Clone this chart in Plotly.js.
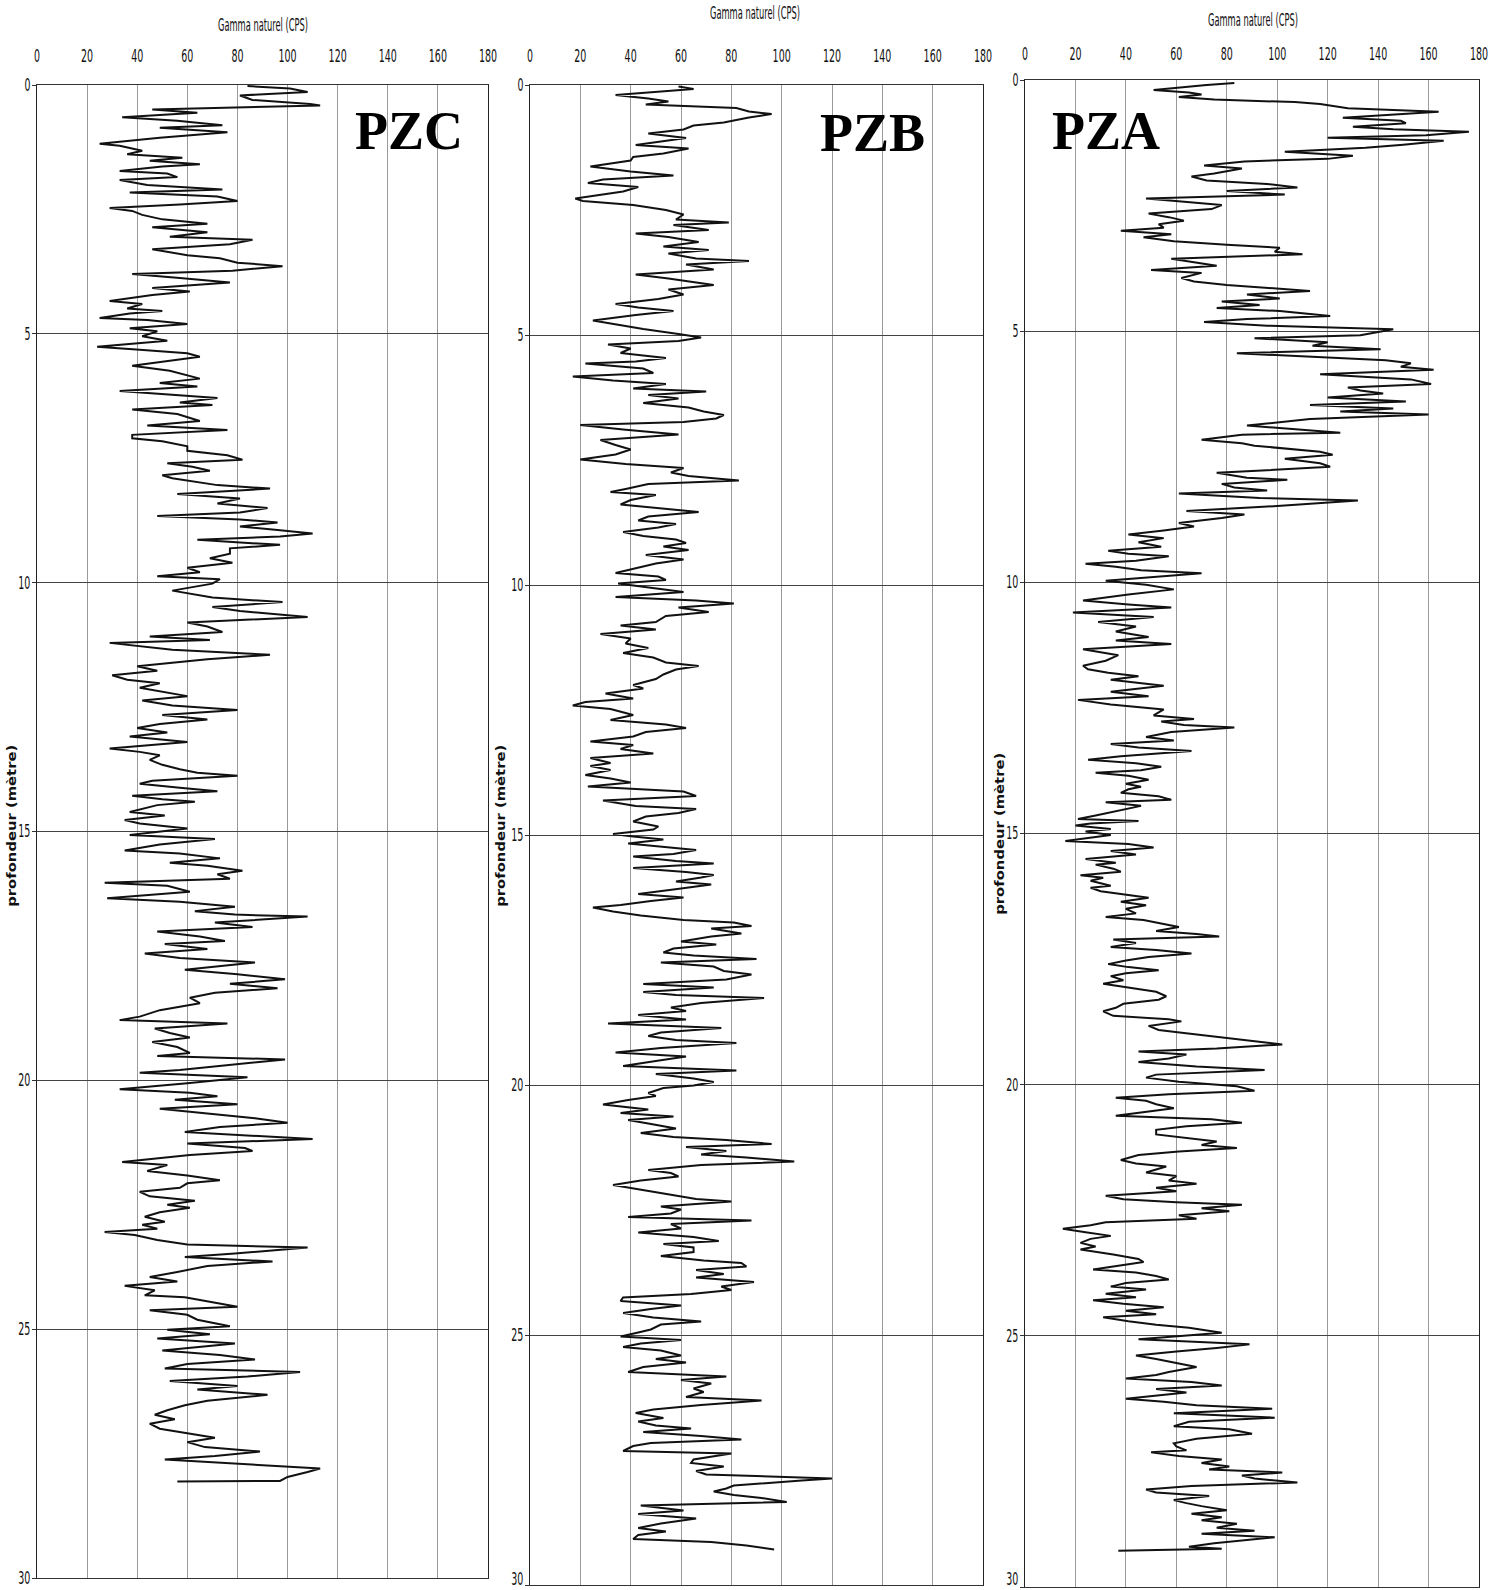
<!DOCTYPE html>
<html>
<head>
<meta charset="utf-8">
<script src="https://cdn.plot.ly/plotly-3.0.1.min.js"></script>
<style>
html,body{margin:0;padding:0;background:#ffffff;}
#chart{width:1506px;height:1590px;}
</style>
</head>
<body>
<div id="chart"></div>
<script>
// ---------------- DATA (depth in m, natural gamma in CPS) ----------------
const wellNames = ['PZC', 'PZB', 'PZA'];
const xTickVals = [0, 20, 40, 60, 80, 100, 120, 140, 160, 180];
const yTickVals = [0, 5, 10, 15, 20, 25, 30];
const xTitle = 'Gamma naturel (CPS)';
const yTitle = 'profondeur (mètre)';

const pzcDepth = [
0.02,0.07,0.14,0.21,0.30,0.38,0.41,0.49,0.56,0.65,
0.72,0.81,0.86,0.95,1.06,1.18,1.22,1.32,1.39,1.46,
1.52,1.59,1.64,1.73,1.78,1.85,1.91,2.01,2.10,2.16,
2.24,2.33,2.40,2.47,2.53,2.61,2.70,2.79,2.86,2.96,
3.05,3.11,3.20,3.30,3.42,3.48,3.57,3.64,3.73,3.80,
3.88,3.97,4.08,4.15,4.22,4.34,4.40,4.49,4.54,4.59,
4.68,4.72,4.80,4.89,4.95,5.05,5.14,5.26,5.32,5.39,
5.46,5.55,5.64,5.74,5.83,5.90,5.99,6.06,6.15,6.24,
6.29,6.38,6.43,6.52,6.61,6.75,6.84,6.93,7.03,7.10,
7.16,7.26,7.35,7.44,7.53,7.60,7.67,7.75,7.84,7.90,
8.04,8.11,8.22,8.31,8.41,8.50,8.59,8.66,8.73,8.79,
8.87,8.94,9.01,9.07,9.14,9.24,9.31,9.42,9.51,9.60,
9.70,9.79,9.87,9.93,10.02,10.16,10.30,10.39,10.49,10.57,
10.69,10.80,10.88,10.99,11.08,11.15,11.21,11.35,11.45,11.54,
11.68,11.77,11.86,11.95,12.02,12.11,12.20,12.28,12.37,12.47,
12.56,12.66,12.75,12.84,12.92,13.01,13.09,13.20,13.33,13.40,
13.47,13.56,13.66,13.75,13.82,13.88,13.98,14.04,14.12,14.19,
14.28,14.35,
14.40,14.47,14.61,14.68,14.77,14.84,14.94,15.07,15.15,15.26,
15.38,15.44,15.54,15.63,15.69,15.79,15.86,15.95,16.03,16.09,
16.21,16.34,16.41,16.51,16.60,16.67,16.71,16.83,16.92,17.01,
17.11,17.20,17.26,17.36,17.45,17.54,17.63,17.78,17.87,17.97,
18.06,18.15,18.24,18.34,18.45,18.59,18.72,18.79,18.86,18.96,
19.05,19.14,19.23,19.33,19.45,19.51,19.58,19.70,19.79,19.85,
19.94,20.06,20.18,20.25,20.32,20.39,20.48,20.57,20.67,20.76,
20.85,20.94,21.04,21.11,21.18,21.27,21.36,21.42,21.50,21.64,
21.70,21.82,21.91,22.01,22.07,22.16,22.24,22.33,22.42,22.50,
22.56,22.65,22.74,22.84,22.90,22.98,23.05,23.11,23.21,23.30,
23.36,23.48,23.55,23.64,23.73,23.85,23.95,24.04,24.13,24.22,
24.32,24.36,24.44,24.55,24.62,24.71,24.81,24.94,25.01,25.10,
25.19,25.29,25.43,25.52,25.61,25.70,25.79,25.86,25.95,26.04,
26.14,26.21,26.32,26.44,26.53,26.63,26.72,26.81,26.90,27.00,
27.09,27.18,27.27,27.37,27.46,27.55,27.62,27.69,27.80,27.87,
27.97,28.05,28.06
];
const pzcGamma = [
84,101,108,81,86,109,113,46,64,34,
56,74,49,76,49,25,33,42,36,58,
45,65,50,33,52,56,33,44,74,37,
72,80,57,29,38,42,50,68,46,68,
53,86,77,46,60,73,80,98,78,38,
57,77,46,61,46,29,42,36,50,37,
25,44,60,37,48,42,52,24,41,60,
65,52,38,53,60,65,49,64,33,61,
72,57,70,38,56,65,44,76,38,38,
50,60,60,76,82,52,62,69,50,54,
72,93,56,81,72,92,81,48,81,96,
81,96,110,97,64,97,77,77,69,78,
60,65,48,73,70,54,70,98,70,81,
108,60,68,74,45,69,29,54,93,68,
40,48,30,36,49,41,52,60,42,54,
80,50,68,49,40,52,37,60,29,41,
49,45,50,57,64,80,46,41,57,72,
38,50,
63,48,37,51,35,41,60,37,71,49,
35,57,73,53,68,82,72,77,27,52,
61,28,57,79,63,79,108,71,86,48,
65,75,51,68,43,57,87,59,80,99,
77,96,71,61,65,49,41,33,76,47,
53,61,46,56,61,48,99,75,57,41,
84,60,33,61,72,55,80,49,68,87,
100,73,59,83,110,60,83,86,61,34,
52,44,60,73,60,57,41,45,63,52,
61,49,43,51,42,48,27,39,48,60,
108,79,59,94,68,56,45,56,35,47,
43,59,68,80,45,60,64,77,52,69,
48,79,50,73,87,60,51,105,84,53,
80,64,92,68,59,52,47,55,45,49,
60,71,60,67,89,71,51,77,113,108,
100,97,56
];

const pzbDepth = [
0.03,0.08,0.20,0.27,0.33,0.39,0.46,0.53,0.58,0.65,
0.75,0.81,0.89,0.97,1.06,1.13,1.20,1.27,1.37,1.44,
1.51,1.63,1.73,1.81,1.89,1.96,2.04,2.13,2.21,2.27,
2.32,2.40,2.50,2.59,2.69,2.75,2.80,2.90,2.97,3.04,
3.14,3.23,3.30,3.37,3.47,3.52,3.59,3.69,3.79,3.87,
4.00,4.09,4.19,4.28,4.38,4.45,4.52,4.60,4.71,4.79,
4.88,4.98,5.05,5.12,5.19,5.27,5.36,5.46,5.53,5.57,
5.67,5.76,5.83,5.91,5.98,6.07,6.13,6.20,6.27,6.36,
6.45,6.53,6.60,6.67,6.74,6.80,6.89,6.99,7.10,7.20,
7.29,7.39,7.49,7.58,7.66,7.75,7.82,7.91,7.98,8.08,
8.14,8.20,8.30,8.39,8.46,8.54,8.63,8.71,8.78,8.85,
8.94,9.02,9.09,9.16,9.23,9.30,9.40,9.49,9.57,9.67,
9.76,9.83,9.90,9.97,10.07,10.14,10.24,10.31,10.37,10.45,
10.54,10.62,10.74,10.81,10.89,10.98,11.07,11.17,11.26,11.36,
11.45,11.55,11.62,11.69,11.79,11.88,12.00,12.07,12.17,12.27,
12.34,12.41,12.48,12.55,12.60,12.70,12.79,12.86,12.94,13.03,
13.13,13.20,13.28,13.37,13.46,13.56,13.62,13.70,13.80,13.87,
13.95,14.03,14.13,14.22,14.31,14.42,14.48,14.56,14.63,14.73,
14.83,14.89,
14.98,15.03,15.09,15.17,15.24,15.30,15.38,15.43,15.52,15.57,
15.66,15.74,15.80,15.85,15.93,15.99,16.09,16.18,16.25,16.32,
16.40,16.45,16.53,16.61,16.70,16.75,16.82,16.87,16.97,17.03,
17.13,17.19,17.27,17.35,17.41,17.48,17.55,17.63,17.72,17.79,
17.89,17.98,18.05,18.14,18.20,18.26,18.36,18.45,18.52,18.60,
18.69,18.77,18.86,18.95,19.02,19.10,19.16,19.26,19.35,19.43,
19.52,19.62,19.71,19.78,19.87,19.94,20.01,20.06,20.16,20.22,
20.30,20.39,20.49,20.56,20.63,20.70,20.77,20.87,20.96,21.04,
21.10,21.18,21.24,21.32,21.39,21.45,21.53,21.60,21.70,21.76,
21.83,21.91,22.00,22.10,22.19,22.28,22.33,22.43,22.49,22.57,
22.64,22.71,22.78,22.87,22.95,23.04,23.12,23.18,23.25,23.34,
23.42,23.51,23.56,23.63,23.70,23.78,23.85,23.94,24.03,24.10,
24.18,24.25,24.32,24.41,24.48,24.56,24.65,24.73,24.79,24.89,
24.95,25.03,25.10,25.17,25.24,25.31,25.41,25.48,25.55,25.64,
25.74,25.83,25.90,25.97,26.07,26.14,26.24,26.31,26.40,26.49,
26.56,26.66,26.73,26.81,26.87,26.94,27.02,27.09,27.16,27.22,
27.32,27.37,27.49,27.56,27.63,27.72,27.79,27.87,27.91,28.01,
28.07,28.13,28.20,28.26,28.34,28.41,28.51,28.58,28.67,28.77,
28.86,28.93,29.00,29.08,29.14,29.21,29.29
];
const pzbGamma = [
59,65,34,47,55,46,82,87,96,87,
77,65,61,47,62,51,42,63,53,41,
40,24,40,57,29,23,43,37,26,18,
21,41,54,61,58,79,57,71,42,55,
67,53,71,55,66,87,62,73,42,55,
73,55,61,51,34,43,57,42,25,34,
45,59,68,59,31,40,36,54,42,22,
45,49,17,33,54,41,70,47,59,45,
63,69,77,74,61,20,37,59,28,34,
40,34,20,38,61,56,63,83,47,38,
32,50,40,36,51,67,47,43,58,51,
37,45,58,62,53,63,46,61,50,42,
34,51,54,35,50,61,34,66,81,59,
71,54,50,36,50,28,40,38,47,37,
49,54,67,58,53,50,41,45,30,41,
22,17,32,38,41,32,54,62,46,41,
24,41,36,49,24,32,24,32,22,32,
40,23,61,66,29,42,66,59,46,41,
51,49,
33,41,53,39,53,66,57,41,58,73,
41,62,73,68,58,72,57,43,61,48,
36,25,33,44,61,81,88,72,84,72,
60,74,57,53,65,90,52,73,77,88,
78,45,73,45,58,93,68,56,62,43,
62,31,76,52,47,58,82,52,34,62,
50,37,82,50,65,73,65,53,47,50,
39,29,47,36,57,39,47,58,44,57,
78,96,62,78,68,86,105,68,47,56,
59,44,33,45,56,66,80,52,60,56,
39,88,56,60,43,65,75,53,65,65,
52,69,84,86,66,77,66,89,76,80,
64,37,36,60,48,37,49,68,52,48,
43,36,60,44,37,52,60,50,62,45,
39,78,60,72,65,69,62,92,68,49,
42,53,43,50,64,45,68,84,48,41,
37,80,65,64,77,66,70,120,108,81,
78,73,81,92,102,44,61,43,66,52,
43,54,43,41,72,86,97
];

const pzaDepth = [
0.06,0.10,0.20,0.25,0.29,0.34,0.39,0.44,0.48,0.56,
0.63,0.69,0.75,0.81,0.86,0.93,0.98,1.03,1.10,1.15,
1.21,1.29,1.35,1.43,1.51,1.57,1.62,1.70,1.76,1.86,
1.92,2.00,2.07,2.14,2.21,2.28,2.36,2.42,2.49,2.57,
2.66,2.73,2.80,2.87,2.94,3.00,3.07,3.13,3.21,3.28,
3.34,3.42,3.47,3.56,3.66,3.70,3.78,3.84,3.94,4.01,
4.08,4.16,4.20,4.27,4.35,4.41,4.48,4.54,4.60,4.70,
4.76,4.82,4.89,4.96,5.08,5.14,5.22,5.29,5.36,5.44,
5.50,5.58,5.64,5.71,5.77,5.86,5.96,6.05,6.12,6.18,
6.24,6.32,6.40,6.47,6.54,6.60,6.66,6.75,6.88,6.94,
7.02,7.06,7.16,7.23,7.28,7.40,7.46,7.54,7.63,7.70,
7.77,7.82,7.92,7.96,8.04,8.11,8.17,8.23,8.32,8.37,
8.48,8.58,8.65,8.72,8.82,8.89,8.97,9.05,9.12,9.20,
9.29,9.37,9.43,9.48,9.57,9.63,9.69,9.76,9.82,9.91,
9.97,10.05,10.14,10.24,10.36,10.44,10.50,10.60,10.69,10.79,
10.88,10.98,11.09,11.16,11.23,11.33,11.45,11.56,11.66,11.73,
11.80,11.87,11.94,12.06,12.18,12.27,12.34,12.43,12.53,12.65,
12.72,12.77,12.84,12.89,12.98,13.08,13.15,13.22,13.29,13.36,
13.46,13.53,13.60,13.67,13.74,13.79,13.85,13.93,14.01,14.07,
14.12,14.19,14.26,14.33,14.38,14.45,14.54,14.64,14.71,
14.75,14.80,14.84,14.91,14.96,15.03,15.09,15.15,15.21,15.28,
15.35,15.42,15.51,15.58,15.62,15.70,15.76,15.83,15.88,15.94,
16.04,16.08,16.15,16.22,16.28,16.36,16.43,16.50,16.59,16.66,
16.72,16.80,16.86,16.94,17.00,17.05,17.11,17.18,17.26,17.32,
17.39,17.46,17.53,17.60,17.66,17.72,17.78,17.84,17.92,17.99,
18.06,18.15,18.24,18.31,18.39,18.47,18.54,18.63,18.70,18.74,
18.83,18.91,18.97,19.06,19.14,19.20,19.28,19.34,19.40,19.48,
19.55,19.64,19.71,19.80,19.86,19.94,20.03,20.12,20.19,20.26,
20.32,20.39,20.47,20.54,20.62,20.69,20.76,20.83,20.90,20.99,
21.06,21.13,21.20,21.26,21.33,21.40,21.50,21.57,21.63,21.75,
21.82,21.91,21.97,22.05,22.12,22.21,22.28,22.34,22.39,22.46,
22.52,22.60,22.67,22.74,22.80,22.87,22.94,23.01,23.07,23.15,
23.22,23.28,23.38,23.47,23.53,23.61,23.68,23.74,23.81,23.88,
23.95,24.02,24.08,24.16,24.23,24.29,24.36,24.43,24.50,24.57,
24.63,24.71,24.78,24.84,24.94,25.00,25.07,25.17,25.24,25.31,
25.39,25.46,25.53,25.62,25.72,25.78,25.85,25.92,25.99,26.06,
26.13,26.19,26.25,26.31,26.38,26.45,26.54,26.63,26.71,26.80,
26.86,26.95,27.05,27.14,27.20,27.28,27.32,27.39,27.46,27.53,
27.60,27.66,27.72,27.78,27.84,27.92,27.99,28.06,28.12,28.19,
28.27,28.33,28.39,28.47,28.54,28.61,28.67,28.74,28.82,28.88,
28.94,29.01,29.09,29.13,29.20,29.24,29.28
];
const pzaGamma = [
83,72,51,65,70,61,75,107,117,128,
164,146,126,149,151,130,146,176,159,120,
166,150,135,103,130,120,87,71,86,75,
66,72,96,108,80,103,48,62,78,74,
49,57,63,53,55,38,58,47,59,80,
101,99,110,58,70,76,50,70,62,67,
80,100,113,88,101,78,93,76,101,121,
88,71,96,146,133,91,120,114,141,84,
107,143,153,149,162,117,153,161,128,133,
142,120,151,113,146,125,160,113,88,104,
125,86,70,86,91,117,122,103,117,121,
93,76,88,104,78,83,96,61,93,132,
100,64,87,78,61,67,55,41,55,45,
54,33,41,57,44,24,36,46,70,48,
32,48,59,41,23,41,58,19,51,29,
44,36,49,36,58,23,37,32,23,25,
33,45,34,55,34,49,21,34,55,51,
67,54,63,83,58,48,59,34,45,66,
38,25,44,54,46,28,41,49,40,46,
41,38,53,58,32,46,38,28,21,
45,26,20,34,24,34,26,16,41,51,
34,44,24,36,28,35,38,22,31,26,
34,26,30,40,49,38,48,40,44,32,
47,55,61,52,68,77,35,44,34,52,
66,49,40,33,41,53,40,34,39,31,
41,52,56,53,39,36,31,35,57,62,
49,53,63,78,93,102,76,45,64,57,
45,68,95,52,48,61,84,91,57,36,
48,52,59,48,36,74,86,64,52,52,
64,76,70,84,61,45,38,44,56,48,
60,57,68,52,60,32,39,60,86,70,
81,61,68,32,26,15,24,34,26,22,
28,22,35,45,47,36,27,44,52,57,
40,34,48,32,44,27,39,55,40,52,
31,41,52,65,78,63,45,89,76,60,
44,52,59,68,57,52,40,66,78,52,
64,53,40,55,68,98,59,99,65,59,
81,90,68,59,60,64,50,61,78,70,
81,73,102,86,91,108,66,48,52,73,
59,64,70,80,66,78,70,84,76,91,
70,99,81,75,65,78,37
];

// ---------------- LAYOUT GEOMETRY (pixels) ----------------
const W = 1506, H = 1590;
const panels = [
  {l: 37,   r: 488,  t: 85, b: 1578, standoff: 15},
  {l: 530,  r: 983,  t: 85, b: 1585, standoff: 15},
  {l: 1025, r: 1479, t: 80, b: 1587, standoff: 12}
];
const depths = [pzcDepth, pzbDepth, pzaDepth];
const gammas = [pzcGamma, pzbGamma, pzaGamma];

const narrow = '"Liberation Sans Narrow", "DejaVu Sans Condensed", "Arial Narrow", sans-serif';

const traces = [];
const layout = {
  width: W, height: H,
  margin: {l: 0, r: 0, t: 0, b: 0},
  paper_bgcolor: '#ffffff',
  plot_bgcolor: '#ffffff',
  showlegend: false,
  annotations: []
};

panels.forEach((p, i) => {
  const sfx = i === 0 ? '' : String(i + 1);
  traces.push({
    x: gammas[i], y: depths[i],
    xaxis: 'x' + sfx, yaxis: 'y' + sfx,
    type: 'scatter', mode: 'lines',
    line: {color: '#111111', width: 2},
    hoverinfo: 'skip'
  });
  layout['xaxis' + sfx] = {
    domain: [p.l / W, p.r / W],
    anchor: 'y' + sfx,
    side: 'top',
    range: [0, 180],
    tickmode: 'array', tickvals: xTickVals,
    ticktext: xTickVals.map(String),
    showgrid: true, gridcolor: '#9a9a9a', gridwidth: 1,
    zeroline: false,
    showline: true, linecolor: '#333333', linewidth: 1.2, mirror: true,
    ticks: '', ticklabelstandoff: p.standoff, ticklabeloverflow: 'allow',
    tickfont: {family: narrow, size: 17, color: '#111'}
  };
  layout['yaxis' + sfx] = {
    domain: [1 - p.b / H, 1 - p.t / H],
    anchor: 'x' + sfx,
    range: [30, 0], autorange: false,
    tickmode: 'array', tickvals: yTickVals,
    ticktext: yTickVals.map(String),
    showgrid: true, gridcolor: '#444444', gridwidth: 1,
    zeroline: false,
    showline: true, linecolor: '#222222', linewidth: 1.2, mirror: true,
    ticks: 'outside', ticklen: 4, tickcolor: '#333', ticklabelstandoff: -2,
    ticklabeloverflow: 'allow',
    tickfont: {family: narrow, size: 17, color: '#111'}
  };
});

// axis titles and well names (positions in pixels)
const xTitlePos = [[263, 25], [755, 13], [1253, 20]];
const yTitlePos = [[11, 826], [500, 826], [999, 834]];
const namePos = [[409, 131], [872, 133], [1106, 131]];

xTitlePos.forEach(([x, y]) => layout.annotations.push({
  xref: 'paper', yref: 'paper', x: x / W, y: 1 - y / H,
  xanchor: 'center', yanchor: 'middle', showarrow: false,
  text: xTitle, font: {family: narrow, size: 17, color: '#111'}
}));
yTitlePos.forEach(([x, y]) => layout.annotations.push({
  xref: 'paper', yref: 'paper', x: x / W, y: 1 - y / H,
  xanchor: 'center', yanchor: 'middle', showarrow: false, textangle: -90,
  text: yTitle, font: {family: '"DejaVu Sans", "Liberation Sans", Arial, sans-serif', size: 13, weight: 'bold', color: '#111'}
}));
namePos.forEach(([x, y], i) => layout.annotations.push({
  xref: 'paper', yref: 'paper', x: x / W, y: 1 - y / H,
  xanchor: 'center', yanchor: 'middle', showarrow: false,
  text: '<b>' + wellNames[i] + '</b>',
  font: {family: '"Liberation Serif", "Times New Roman", serif', size: 54, color: '#000'}
}));

// narrow the sans text to mimic the condensed typeface of the original
function squeeze(el, target) {
  const L = el.getComputedTextLength();
  if (!L) return;
  el.setAttribute('textLength', target.toFixed(1));
  el.setAttribute('lengthAdjust', 'spacingAndGlyphs');
}

Plotly.newPlot('chart', traces, layout, {staticPlot: true, displayModeBar: false}).then(gd => {
  const sel = ['x', 'x2', 'x3', 'y', 'y2', 'y3'].map(a => 'g.' + a + 'tick text').join(', ');
  const svgTop = gd.getBoundingClientRect().top;
  gd.querySelectorAll(sel).forEach(t => {
    squeeze(t, t.getComputedTextLength() * 0.62);
    // keep bottom labels fully inside the picture
    const bb = t.getBoundingClientRect();
    const over = bb.bottom - svgTop - (H - 1);
    if (over > 0) {
      const y0 = parseFloat(t.getAttribute('y') || '0');
      t.setAttribute('y', (y0 - over).toFixed(1));
    }
  });
  gd.querySelectorAll('.annotation-text').forEach(t => {
    if (t.textContent === xTitle) squeeze(t, 90);
    else if (t.textContent === yTitle) squeeze(t, 162);
  });
});
</script>
</body>
</html>
